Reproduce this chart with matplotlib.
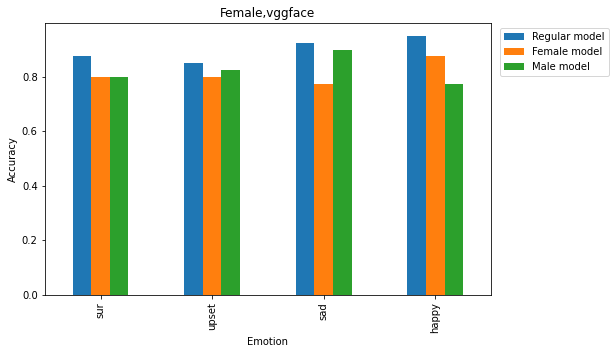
import pandas as pd
import matplotlib
matplotlib.use('Agg')
import matplotlib.pyplot as plt

# Accuracy per emotion
emotions = ['sur', 'upset', 'sad', 'happy']
regular_model = [0.875, 0.85, 0.925, 0.95]
female_model = [0.8, 0.8, 0.775, 0.875]
male_model = [0.8, 0.825, 0.9, 0.775]

df = pd.DataFrame({'Regular model': regular_model,
                   'Female model': female_model,
                   'Male model': male_model}, index=emotions)
df.index.name = 'Emotion'

# 72 dpi so text sizes match the reference
fig, ax = plt.subplots(figsize=(613 / 72, 354 / 72), dpi=72)
fig.subplots_adjust(left=0.073, right=0.801, top=0.935, bottom=0.167)

df.plot(kind='bar', ax=ax, rot=90)
ax.set_ylabel('Accuracy')
ax.set_title('Female,vggface')
ax.legend(loc='upper left', bbox_to_anchor=(1.01, 1.0))

plt.savefig('out.png', dpi=72)
